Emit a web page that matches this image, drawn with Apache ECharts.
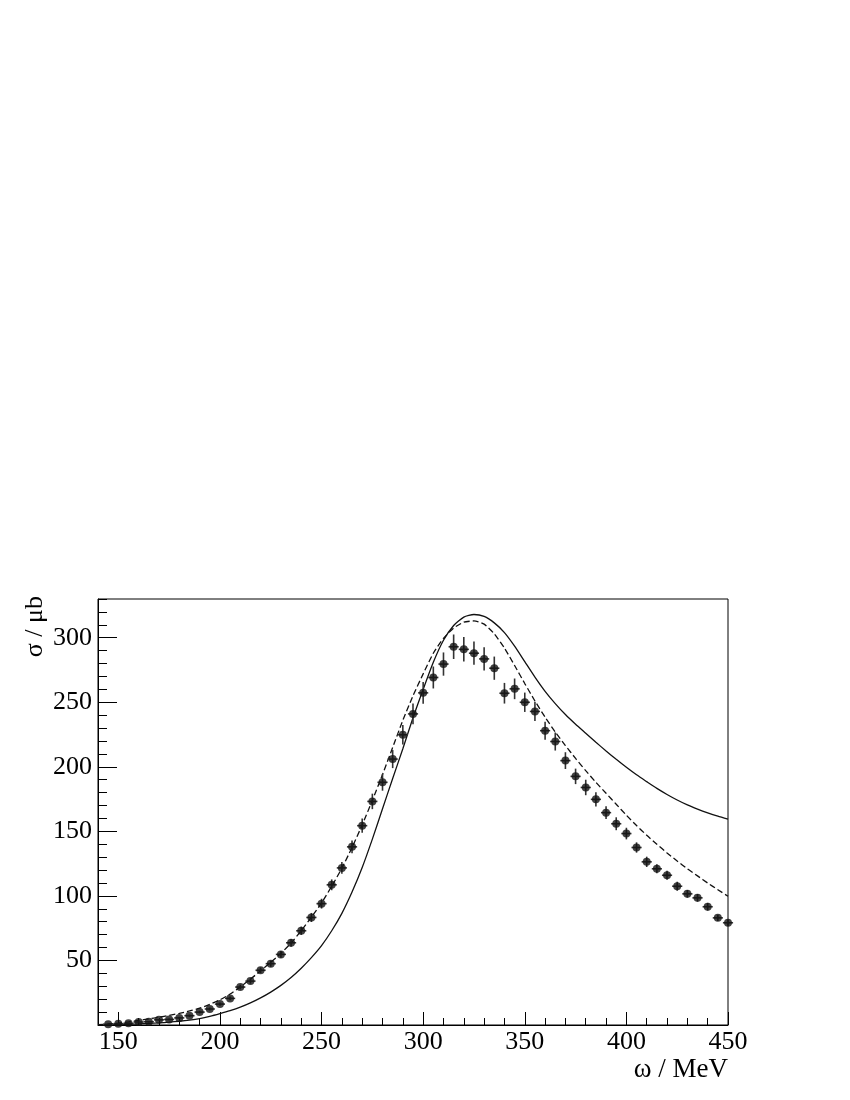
<!DOCTYPE html>
<html>
<head>
<meta charset="utf-8">
<script src="https://cdn.jsdelivr.net/npm/echarts@6/dist/echarts.min.js"></script>
<style>
  html, body { margin: 0; padding: 0; background: #fff; }
  #chart { width: 850px; height: 1100px; }
</style>
</head>
<body>
<div id="chart"></div>
<script>
// ---- data ----
const dotX = [145,150,155,160,165,170,175,180,185,190,195,200,205,210,215,220,225,230,235,240,245,250,255,260,265,270,275,280,285,290,295,300,305,310,315,320,325,330,335,340,345,350,355,360,365,370,375,380,385,390,395,400,405,410,415,420,425,430,435,440,445,450];
const dotY = [0.5,1,1.3,2.3,2.5,4,4.3,5.5,7.2,10,12.4,16.2,20.6,29.4,34,42.4,47.5,54.7,63.7,73,83.3,94,108.6,121.7,138,154.4,173.2,188,206,224.8,241,257.3,269.2,279.6,293,291,288,283.6,276.4,257,260.4,250,242.9,228,219.6,204.8,192.6,184,174.8,164.5,155.9,148.3,137.5,126.4,121,116,107.5,101.6,98.5,91.6,83,79.2];
const dotErr = [0.3,0.3,0.4,0.5,0.5,0.6,0.7,0.8,0.9,1,1.1,1.3,1.5,1.8,2,2.2,2.4,2.6,3,3.2,3.5,3.8,4.2,4.5,5,5.5,6,6.5,7,7.5,8,8.5,8.5,9,9.5,9.5,9,9,9,8,8,7.5,7.5,7,7,6.5,6,6,5.5,5,5,4.5,4,4,3.5,3.5,3.5,3,3,3,2.5,2.5];
const binHalfWidth = 2.5;

const curveX = [140,145,150,155,160,165,170,175,180,185,190,195,200,205,210,215,220,225,230,235,240,245,250,255,260,265,270,275,280,285,290,295,300,305,310,315,320,325,330,335,340,345,350,355,360,365,370,375,380,385,390,395,400,405,410,415,420,425,430,435,440,445,450];
const solidY = [0.1,0.2,0.3,0.5,0.8,1.2,1.6,2.2,2.9,3.8,5,6.7,8.8,11.1,13.8,17.1,21,25.5,30.7,36.8,44,52.2,61.5,73,86.5,103,122,144,167.5,191,214,238,260,281,298,309.5,316,318,316.5,311.5,304,293.5,281.5,269.5,258.5,249,240.5,233,226,219,212.3,205.8,199.6,193.8,188.5,183.3,178.6,174.3,170.5,167.3,164.4,161.8,159.5];
const dashedY = [0.3,0.8,1.5,2.4,3.5,4.7,6,7.4,9,10.9,13,16,19.5,24,29.5,35.5,42,48.5,55.5,63.5,73,83.5,94.5,107.5,121.5,137.5,155,174,194,215,236,255,272,288,299.5,307.5,312,313,310.5,303,292,278.5,264.5,251,238.5,227,216.5,206.5,197,188,179.5,171,162.5,154.5,147,140,133.3,127,121,115.5,110,104.8,99.7];

const xLabels = [150,200,250,300,350,400,450];
const yLabels = [50,100,150,200,250,300];
const yMajorTicks = [0,50,100,150,200,250,300];

const FONT = '"Liberation Serif", "DejaVu Serif", serif';

const chart = echarts.init(document.getElementById('chart'), null, { renderer: 'canvas' });

const labelStyle = { color: '#000', fontFamily: FONT, fontSize: 26 };

chart.setOption({
  backgroundColor: '#fff',
  animation: false,
  grid: {
    left: 98, right: 122, top: 599, bottom: 75,
    show: true, borderColor: '#000', borderWidth: 1,
    containLabel: false, outerBoundsMode: 'none'
  },
  xAxis: [
    {
      type: 'value', min: 140, max: 450, interval: 10,
      axisLine: { show: true, lineStyle: { color: '#000', width: 1 } },
      axisTick: { show: true, inside: true, length: 7, lineStyle: { color: '#000', width: 1 } },
      axisLabel: Object.assign({ margin: 4, formatter: v => xLabels.includes(v) ? String(v) : '' }, labelStyle),
      splitLine: { show: false }
    },
    {
      type: 'value', min: 140, max: 450, position: 'bottom',
      axisLine: { show: false },
      axisTick: { show: true, inside: true, length: 13, customValues: xLabels, lineStyle: { color: '#000', width: 1 } },
      axisLabel: { show: false },
      splitLine: { show: false }
    }
  ],
  yAxis: [
    {
      type: 'value', min: 0, max: 330, interval: 10,
      axisLine: { show: true, lineStyle: { color: '#000', width: 1 } },
      axisTick: { show: true, inside: true, length: 9, lineStyle: { color: '#000', width: 1 } },
      axisLabel: Object.assign({ margin: 6, formatter: v => yLabels.includes(v) ? String(v) : '' }, labelStyle),
      splitLine: { show: false }
    },
    {
      type: 'value', min: 0, max: 330, position: 'left',
      axisLine: { show: false },
      axisTick: { show: true, inside: true, length: 19, customValues: yMajorTicks, lineStyle: { color: '#000', width: 1 } },
      axisLabel: { show: false },
      splitLine: { show: false }
    }
  ],
  graphic: [
    {
      type: 'text', x: 728, y: 1056,
      style: { text: 'ω / MeV', fill: '#000', font: '27px ' + FONT, align: 'right', verticalAlign: 'top' }
    },
    {
      type: 'text', x: 35, y: 596, rotation: Math.PI / 2,
      style: { text: 'σ / μb', fill: '#000', font: '26px ' + FONT, align: 'right', verticalAlign: 'middle' }
    }
  ],
  series: [
    {
      type: 'line', xAxisIndex: 0, yAxisIndex: 0,
      data: curveX.map((x, i) => [x, solidY[i]]),
      showSymbol: false, smooth: 0.2,
      lineStyle: { color: '#111', width: 1.3, type: 'solid' },
      z: 2
    },
    {
      type: 'line', xAxisIndex: 0, yAxisIndex: 0,
      data: curveX.map((x, i) => [x, dashedY[i]]),
      showSymbol: false, smooth: 0.2,
      lineStyle: { color: '#111', width: 1.3, type: [6, 3] },
      z: 2
    },
    {
      type: 'custom', xAxisIndex: 0, yAxisIndex: 0,
      data: dotX.map((x, i) => [x, dotY[i], dotErr[i]]),
      renderItem: function (params, api) {
        const x = api.value(0), y = api.value(1), e = api.value(2);
        const top = api.coord([x, y + e]);
        const bot = api.coord([x, Math.max(0, y - e)]);
        const l = api.coord([x - binHalfWidth, y]);
        const r = api.coord([x + binHalfWidth, y]);
        return {
          type: 'group',
          children: [
            { type: 'line', shape: { x1: top[0], y1: top[1], x2: bot[0], y2: bot[1] }, style: { stroke: '#333', lineWidth: 1.6 } },
            { type: 'line', shape: { x1: l[0], y1: l[1], x2: r[0], y2: r[1] }, style: { stroke: '#333', lineWidth: 1.6 } }
          ]
        };
      },
      z: 3
    },
    {
      type: 'scatter', xAxisIndex: 0, yAxisIndex: 0,
      data: dotX.map((x, i) => [x, dotY[i]]),
      symbol: 'circle', symbolSize: 8,
      itemStyle: { color: '#111' },
      z: 4
    }
  ]
});
</script>
</body>
</html>
